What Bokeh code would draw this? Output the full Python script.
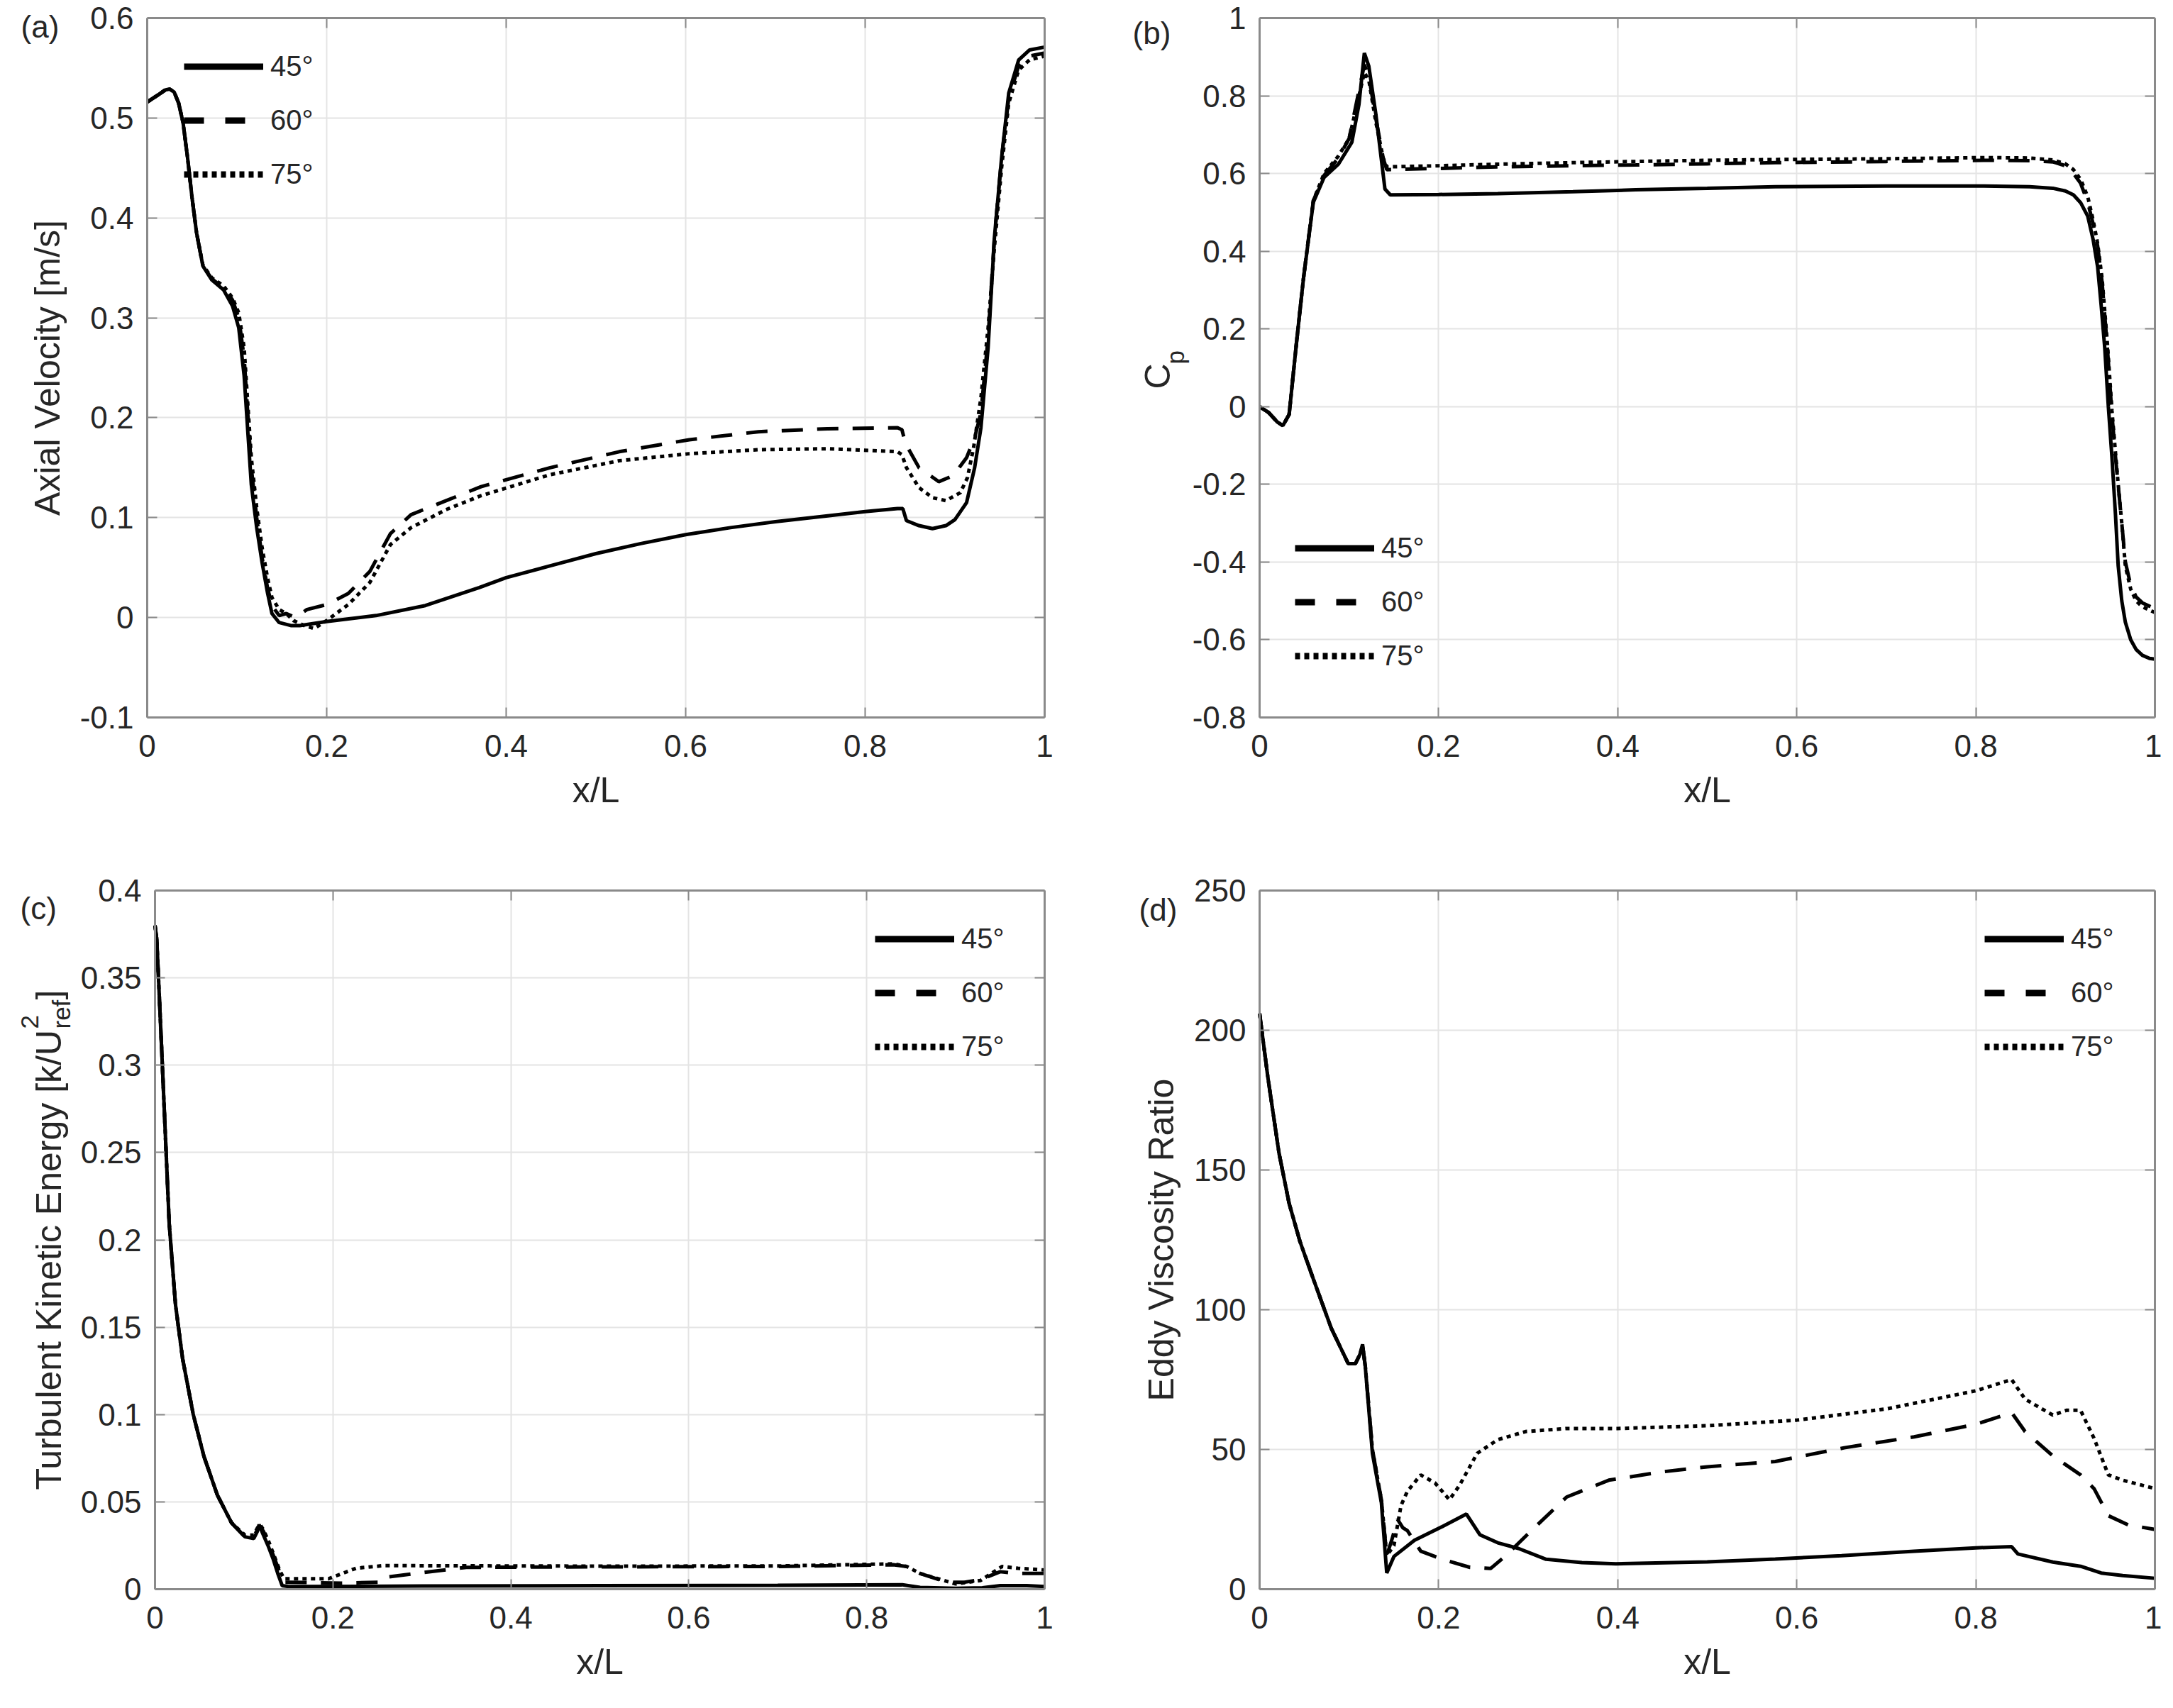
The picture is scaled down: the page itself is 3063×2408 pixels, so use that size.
import math
from bokeh.plotting import figure
from bokeh.models import (Range1d, FixedTicker, LinearAxis, Legend, LegendItem,
                          Label, CustomJSTickFormatter)
from bokeh.layouts import column, row
from bokeh.embed import file_html
from bokeh.resources import INLINE

# ---------------- data ----------------
X_TICKS = [0, 0.2, 0.4, 0.6, 0.8, 1]
X_TICK_LABELS = ["0", "0.2", "0.4", "0.6", "0.8", "1"]
SERIES_NAMES = ["45°", "60°", "75°"]

# (a) axial velocity
A_TICKS = [-0.1, 0, 0.1, 0.2, 0.3, 0.4, 0.5, 0.6]
A_TICK_LABELS = ["-0.1", "0", "0.1", "0.2", "0.3", "0.4", "0.5", "0.6"]
A_X45 = [0, 0.012, 0.02, 0.025, 0.03, 0.035, 0.04, 0.045, 0.05, 0.055, 0.062, 0.072, 0.085, 0.095, 0.102, 0.108, 0.116, 0.122, 0.128, 0.134, 0.139, 0.147, 0.16, 0.17, 0.2, 0.255, 0.31, 0.37, 0.4, 0.45, 0.5, 0.55, 0.6, 0.65, 0.7, 0.76, 0.8, 0.836, 0.842, 0.846, 0.86, 0.875, 0.89, 0.9, 0.913, 0.922, 0.929, 0.937, 0.944, 0.952, 0.96, 0.971, 0.983, 1.0]
A_Y45 = [0.516, 0.523, 0.528, 0.529, 0.526, 0.515, 0.495, 0.46, 0.42, 0.385, 0.352, 0.338, 0.328, 0.312, 0.29, 0.242, 0.133, 0.09, 0.055, 0.025, 0.004, -0.005, -0.008, -0.008, -0.004, 0.002, 0.012, 0.03, 0.04, 0.052, 0.064, 0.074, 0.083, 0.09, 0.096, 0.102, 0.106, 0.109, 0.109, 0.097, 0.092, 0.089, 0.092, 0.098, 0.115, 0.15, 0.19, 0.27, 0.38, 0.46, 0.525, 0.558, 0.568, 0.571]
A_X60 = [0, 0.012, 0.02, 0.025, 0.03, 0.035, 0.04, 0.045, 0.05, 0.055, 0.062, 0.072, 0.085, 0.095, 0.102, 0.108, 0.116, 0.122, 0.128, 0.134, 0.139, 0.147, 0.155, 0.165, 0.178, 0.2, 0.224, 0.248, 0.271, 0.294, 0.333, 0.372, 0.449, 0.526, 0.604, 0.681, 0.758, 0.836, 0.841, 0.845, 0.86, 0.882, 0.898, 0.913, 0.922, 0.929, 0.937, 0.944, 0.952, 0.96, 0.971, 0.983, 1.0]
A_Y60 = [0.516, 0.523, 0.528, 0.529, 0.526, 0.515, 0.495, 0.46, 0.42, 0.385, 0.352, 0.339, 0.33, 0.318, 0.3, 0.26, 0.15, 0.1, 0.06, 0.03, 0.012, 0.002, 0.004, 0.0, 0.008, 0.013, 0.024, 0.046, 0.084, 0.103, 0.117, 0.131, 0.15, 0.166, 0.178, 0.186, 0.189, 0.19, 0.188, 0.174, 0.15, 0.136, 0.142, 0.16, 0.18, 0.205, 0.28, 0.38, 0.46, 0.52, 0.552, 0.562, 0.565]
A_X75 = [0, 0.012, 0.02, 0.025, 0.03, 0.035, 0.04, 0.045, 0.05, 0.055, 0.062, 0.072, 0.085, 0.095, 0.102, 0.108, 0.116, 0.122, 0.128, 0.134, 0.139, 0.147, 0.155, 0.163, 0.175, 0.186, 0.2, 0.224, 0.248, 0.271, 0.294, 0.333, 0.372, 0.449, 0.526, 0.604, 0.681, 0.758, 0.836, 0.841, 0.846, 0.86, 0.875, 0.89, 0.906, 0.914, 0.921, 0.929, 0.937, 0.944, 0.952, 0.96, 0.971, 0.983, 1.0]
A_Y75 = [0.516, 0.523, 0.528, 0.529, 0.526, 0.515, 0.495, 0.46, 0.42, 0.385, 0.353, 0.34, 0.332, 0.32, 0.305, 0.27, 0.16, 0.11, 0.07, 0.04, 0.02, 0.008, 0.004, -0.003, -0.008, -0.011, -0.003, 0.013, 0.035, 0.073, 0.09, 0.108, 0.122, 0.143, 0.157, 0.164, 0.168, 0.169, 0.166, 0.163, 0.15, 0.13, 0.12, 0.117, 0.125, 0.14, 0.171, 0.22, 0.29, 0.37, 0.45, 0.515, 0.548, 0.558, 0.562]

# (b) pressure coefficient
B_TICKS = [-0.8, -0.6, -0.4, -0.2, 0, 0.2, 0.4, 0.6, 0.8, 1]
B_TICK_LABELS = ["-0.8", "-0.6", "-0.4", "-0.2", "0", "0.2", "0.4", "0.6", "0.8", "1"]
B_X45 = [0, 0.01, 0.02, 0.026, 0.033, 0.041, 0.049, 0.06, 0.072, 0.088, 0.103, 0.111, 0.117, 0.122, 0.13, 0.14, 0.146, 0.2, 0.266, 0.35, 0.42, 0.5, 0.576, 0.7, 0.809, 0.86, 0.886, 0.9, 0.909, 0.917, 0.925, 0.931, 0.936, 0.94, 0.944, 0.948, 0.952, 0.956, 0.959, 0.963, 0.967, 0.973, 0.979, 0.986, 0.994, 1.0]
B_Y45 = [0.0, -0.015, -0.04, -0.049, -0.02, 0.16, 0.33, 0.526, 0.59, 0.624, 0.68, 0.778, 0.91, 0.876, 0.75, 0.56, 0.545, 0.546, 0.548, 0.553, 0.558, 0.562, 0.566, 0.568, 0.568, 0.566, 0.562, 0.555, 0.545, 0.525, 0.49, 0.43, 0.36, 0.26, 0.15, 0.0, -0.13, -0.28, -0.41, -0.5, -0.555, -0.6, -0.625, -0.64, -0.648, -0.65]
B_X60 = [0, 0.01, 0.02, 0.026, 0.033, 0.041, 0.049, 0.06, 0.072, 0.088, 0.1, 0.108, 0.117, 0.122, 0.13, 0.138, 0.142, 0.2, 0.266, 0.35, 0.42, 0.5, 0.576, 0.7, 0.81, 0.86, 0.886, 0.9, 0.909, 0.917, 0.925, 0.931, 0.936, 0.941, 0.947, 0.952, 0.956, 0.959, 0.963, 0.967, 0.973, 0.979, 0.986, 1.0]
B_Y60 = [0.0, -0.015, -0.04, -0.049, -0.02, 0.16, 0.33, 0.53, 0.595, 0.64, 0.69, 0.78, 0.88, 0.85, 0.74, 0.64, 0.61, 0.613, 0.617, 0.62, 0.622, 0.625, 0.628, 0.631, 0.634, 0.633, 0.63, 0.62, 0.6, 0.575, 0.526, 0.47, 0.414, 0.32, 0.148, -0.02, -0.13, -0.203, -0.3, -0.4, -0.46, -0.49, -0.505, -0.52]
B_X75 = [0, 0.01, 0.02, 0.026, 0.033, 0.041, 0.049, 0.06, 0.072, 0.088, 0.1, 0.108, 0.117, 0.122, 0.13, 0.138, 0.142, 0.2, 0.266, 0.35, 0.42, 0.5, 0.576, 0.7, 0.81, 0.86, 0.886, 0.9, 0.909, 0.917, 0.925, 0.931, 0.936, 0.941, 0.947, 0.952, 0.956, 0.959, 0.963, 0.967, 0.973, 0.979, 0.986, 1.0]
B_Y75 = [0.0, -0.015, -0.04, -0.049, -0.02, 0.16, 0.33, 0.53, 0.6, 0.645, 0.69, 0.77, 0.86, 0.84, 0.73, 0.64, 0.617, 0.62, 0.624, 0.628, 0.631, 0.634, 0.636, 0.638, 0.641, 0.64, 0.635, 0.625, 0.61, 0.585, 0.54, 0.48, 0.42, 0.33, 0.16, -0.01, -0.12, -0.2, -0.3, -0.41, -0.47, -0.5, -0.515, -0.53]

# (c) turbulent kinetic energy
C_TICKS = [0, 0.05, 0.1, 0.15, 0.2, 0.25, 0.3, 0.35, 0.4]
C_TICK_LABELS = ["0", "0.05", "0.1", "0.15", "0.2", "0.25", "0.3", "0.35", "0.4"]
C_X45 = [0, 0.002, 0.008, 0.016, 0.023, 0.031, 0.043, 0.055, 0.07, 0.086, 0.101, 0.111, 0.115, 0.117, 0.121, 0.127, 0.133, 0.138, 0.143, 0.15, 0.3, 0.5, 0.7, 0.84, 0.86, 0.9, 0.93, 0.95, 0.98, 1.0]
C_Y45 = [0.38, 0.372, 0.303, 0.209, 0.163, 0.132, 0.1, 0.076, 0.054, 0.038, 0.03, 0.029, 0.033, 0.037, 0.032, 0.025, 0.017, 0.009, 0.002, 0.0015, 0.0018, 0.002, 0.0022, 0.0025, 0.001, 0.0005, 0.0008, 0.002, 0.002, 0.0015]
C_X60 = [0, 0.002, 0.008, 0.016, 0.023, 0.031, 0.043, 0.055, 0.07, 0.086, 0.101, 0.111, 0.115, 0.118, 0.122, 0.128, 0.134, 0.14, 0.145, 0.15, 0.21, 0.257, 0.262, 0.3, 0.35, 0.5, 0.7, 0.83, 0.845, 0.86, 0.89, 0.91, 0.928, 0.95, 0.97, 1.0]
C_Y60 = [0.38, 0.372, 0.303, 0.209, 0.163, 0.132, 0.1, 0.076, 0.054, 0.038, 0.03, 0.03, 0.034, 0.036, 0.033, 0.026, 0.018, 0.01, 0.004, 0.004, 0.0035, 0.004, 0.007, 0.0095, 0.0125, 0.0128, 0.013, 0.014, 0.013, 0.009, 0.004, 0.004, 0.0055, 0.01, 0.009, 0.009]
C_X75 = [0, 0.002, 0.008, 0.016, 0.023, 0.031, 0.043, 0.055, 0.07, 0.086, 0.101, 0.111, 0.115, 0.118, 0.122, 0.128, 0.134, 0.14, 0.145, 0.15, 0.195, 0.226, 0.257, 0.5, 0.7, 0.83, 0.845, 0.86, 0.9, 0.928, 0.952, 0.97, 1.0]
C_Y75 = [0.38, 0.372, 0.303, 0.209, 0.163, 0.132, 0.1, 0.076, 0.054, 0.038, 0.031, 0.031, 0.035, 0.037, 0.034, 0.027, 0.019, 0.011, 0.006, 0.006, 0.006, 0.012, 0.0135, 0.0132, 0.0133, 0.0145, 0.013, 0.009, 0.003, 0.005, 0.013, 0.012, 0.011]

# (d) eddy viscosity ratio
D_TICKS = [0, 50, 100, 150, 200, 250]
D_TICK_LABELS = ["0", "50", "100", "150", "200", "250"]
D_X45 = [0, 0.0093, 0.0217, 0.033, 0.045, 0.06, 0.08, 0.099, 0.107, 0.112, 0.115, 0.118, 0.126, 0.136, 0.142, 0.15, 0.173, 0.204, 0.231, 0.246, 0.266, 0.289, 0.32, 0.36, 0.398, 0.5, 0.576, 0.65, 0.731, 0.8, 0.84, 0.847, 0.886, 0.917, 0.94, 0.964, 1.0]
D_Y45 = [206, 183, 156, 138, 124.5, 111, 93.4, 80.7, 80.7, 84, 87.6, 79.8, 48.6, 31, 5.8, 11.7, 17.5, 22.4, 26.9, 19.5, 16.6, 14.6, 10.7, 9.5, 9.1, 9.8, 10.8, 12, 13.6, 14.8, 15.2, 12.6, 9.7, 8.2, 5.8, 4.9, 3.9]
D_X60 = [0, 0.0093, 0.0217, 0.033, 0.045, 0.06, 0.08, 0.099, 0.107, 0.112, 0.115, 0.118, 0.126, 0.136, 0.142, 0.148, 0.154, 0.16, 0.165, 0.18, 0.204, 0.235, 0.258, 0.274, 0.305, 0.343, 0.39, 0.45, 0.5, 0.576, 0.653, 0.731, 0.8, 0.84, 0.855, 0.886, 0.917, 0.932, 0.948, 0.97, 1.0]
D_Y60 = [206, 183, 156, 138, 124.5, 111, 93.4, 80.7, 80.7, 84, 87, 80, 50, 32, 12, 18, 25, 22, 21, 13.6, 10.7, 7.8, 7.4, 11.7, 21.4, 33, 39, 42, 43.8, 45.7, 50.6, 54.5, 59, 63.2, 56.4, 47.7, 40.9, 36, 26.3, 23, 21.4]
D_X75 = [0, 0.0093, 0.0217, 0.033, 0.045, 0.06, 0.08, 0.099, 0.107, 0.112, 0.115, 0.118, 0.126, 0.136, 0.142, 0.15, 0.158, 0.165, 0.18, 0.196, 0.212, 0.223, 0.243, 0.266, 0.297, 0.343, 0.4, 0.5, 0.6, 0.7, 0.8, 0.84, 0.855, 0.886, 0.901, 0.917, 0.932, 0.948, 0.964, 1.0]
D_Y75 = [206, 183, 156, 138, 124.5, 111, 93.4, 80.7, 80.7, 84, 87, 80, 50, 32, 12, 15.6, 30, 35, 40.9, 38, 32, 37, 48.6, 53.5, 56.4, 57.5, 57.5, 58.5, 60.5, 64.5, 71, 75, 68, 62.3, 64, 64, 54, 40.9, 39, 36]

# ---------------- style ----------------
FONT = "Liberation Sans"
TXT = "#262626"
AXC = "#8a8a8a"
GRID = "#e4e4e4"
DASH = "30 20"
DOT = "6 6"
EMPTY = "return ''"


def make_axis(p, side, fixed, bounds, ticks, labels=None, line_color=AXC,
              tick_in=14, tick_color=AXC, level=None):
    ax = LinearAxis(fixed_location=fixed, bounds=bounds,
                    ticker=FixedTicker(ticks=ticks))
    if labels is None:
        ax.formatter = CustomJSTickFormatter(code=EMPTY)
        ax.major_label_text_font_size = "1px"
        ax.major_label_standoff = 0
    else:
        ax.major_label_overrides = dict(zip(ticks, labels))
        ax.major_label_text_font = FONT
        ax.major_label_text_font_size = "44px"
        ax.major_label_text_color = TXT
    ax.axis_line_color = line_color
    ax.axis_line_width = 3
    ax.major_tick_line_color = tick_color
    ax.major_tick_line_width = 2
    ax.major_tick_in = tick_in
    ax.major_tick_out = 0
    ax.minor_tick_line_color = None
    ax.axis_label_text_font = FONT
    ax.axis_label_text_font_size = "50px"
    ax.axis_label_text_font_style = "normal"
    ax.axis_label_text_color = TXT
    if level is not None:
        ax.level = level
    p.add_layout(ax, side)
    return ax


def make_panel(width, height, L, R, T, B, yrange, yticks, ylabels, ylabel,
               series, legend_loc):
    W = width - L - R
    H = height - T - B
    y0, y1 = yrange
    sx = 1.0 / W
    sy = (y1 - y0) / H
    p = figure(width=width, height=height,
               x_range=Range1d(-L * sx, 1 + R * sx),
               y_range=Range1d(y0 - B * sy, y1 + T * sy),
               x_axis_location=None, y_axis_location=None,
               output_backend="svg", toolbar_location=None, min_border=0)
    for g in p.renderers + list(p.center):
        pass
    for g in list(p.center):
        if g.__class__.__name__ == "Grid":
            g.visible = False
    p.background_fill_color = "white"
    p.border_fill_color = "white"
    p.outline_line_color = None

    # light grid, drawn as full-length inner ticks beneath the curves
    make_axis(p, "below", y0, (0, 1), X_TICKS[1:-1], line_color=None,
              tick_in=H, tick_color=GRID, level="underlay")
    make_axis(p, "left", 0, (y0, y1), yticks[1:-1], line_color=None,
              tick_in=W, tick_color=GRID, level="underlay")

    (x45, y45), (x60, y60), (x75, y75) = series
    p.line(x75, y75, line_color="black", line_width=5, line_dash=DOT)
    p.line(x60, y60, line_color="black", line_width=5, line_dash=DASH)
    p.line(x45, y45, line_color="black", line_width=5)

    # box with inner ticks on all four sides
    xax = make_axis(p, "below", y0, (0, 1), X_TICKS, X_TICK_LABELS)
    xax.axis_label = "x/L"
    xax.major_label_standoff = 24
    xax.axis_label_standoff = 16
    yax = make_axis(p, "left", 0, (y0, y1), yticks, ylabels)
    yax.axis_label = ylabel
    yax.major_label_standoff = 19
    yax.axis_label_standoff = 15
    make_axis(p, "above", y1, (0, 1), X_TICKS)
    make_axis(p, "right", 1, (y0, y1), yticks)

    # legend samples: single-point renderers (draw nothing in the plot)
    l45 = p.line(x45[:1], y45[:1], line_color="black", line_width=9)
    l60 = p.line(x60[:1], y60[:1], line_color="black", line_width=9, line_dash="28 30")
    l75 = p.line(x75[:1], y75[:1], line_color="black", line_width=9, line_dash="7 6")
    legend = Legend(items=[LegendItem(label=SERIES_NAMES[0], renderers=[l45]),
                           LegendItem(label=SERIES_NAMES[1], renderers=[l60]),
                           LegendItem(label=SERIES_NAMES[2], renderers=[l75])],
                    location=(legend_loc[0] + L, legend_loc[1] + B),
                    orientation="vertical",
                    padding=0, margin=0, spacing=31,
                    glyph_width=112, glyph_height=41, label_height=41,
                    label_standoff=10, label_text_font=FONT,
                    label_text_font_size="40px", label_text_color=TXT,
                    border_line_color=None, background_fill_alpha=0)
    p.add_layout(legend)
    return p


def tag_label(x, y, text):
    return Label(x=x, y=y, text=text, text_font=FONT, text_font_size="44px",
                 text_color=TXT, text_align="left", text_baseline="middle")


def rot_label(x, y, text, size):
    return Label(x=x, y=y, text=text, angle=math.pi / 2, text_font=FONT,
                 text_font_size=size, text_color=TXT,
                 text_align="left", text_baseline="alphabetic")


pa = make_panel(1532, 1182, 207, 60, 25, 171, (-0.1, 0.6), A_TICKS, A_TICK_LABELS,
                "Axial Velocity [m/s]",
                [(A_X45, A_Y45), (A_X60, A_Y60), (A_X75, A_Y75)], (52, 743))
pa.add_layout(tag_label(-0.1407, 0.5915, "(a)"))

pb = make_panel(1515, 1182, 243, 10, 25, 171, (-0.8, 1.0), B_TICKS, B_TICK_LABELS,
                "",
                [(B_X45, B_Y45), (B_X60, B_Y60), (B_X75, B_Y75)], (50, 64))
pb.add_layout(tag_label(-0.1418, 0.9617, "(b)"))
pb.add_layout(rot_label(-0.1141, 0.0452, "C", "50px"))
pb.add_layout(rot_label(-0.0943, 0.1091, "p", "35px"))

pc = make_panel(1532, 1210, 218, 60, 73, 152, (0, 0.4), C_TICKS, C_TICK_LABELS,
                "",
                [(C_X45, C_Y45), (C_X60, C_Y60), (C_X75, C_Y75)], (1015, 742))
pc.add_layout(tag_label(-0.1515, 0.3898, "(c)"))
pc.add_layout(rot_label(-0.1196, 0.0569, "Turbulent Kinetic Energy [k/U", "50px"))
pc.add_layout(rot_label(-0.1404, 0.3208, "2", "35px"))
pc.add_layout(rot_label(-0.1053, 0.3208, "ref", "35px"))
pc.add_layout(rot_label(-0.1196, 0.3375, "]", "50px"))

pd = make_panel(1515, 1210, 243, 10, 73, 152, (0, 250), D_TICKS, D_TICK_LABELS,
                "Eddy Viscosity Ratio",
                [(D_X45, D_Y45), (D_X60, D_Y60), (D_X75, D_Y75)], (1022, 742))
pd.add_layout(tag_label(-0.1347, 243.1, "(d)"))

layout = column(row(pa, pb), row(pc, pd))
open("out.html", "w").write(file_html(layout, INLINE))
